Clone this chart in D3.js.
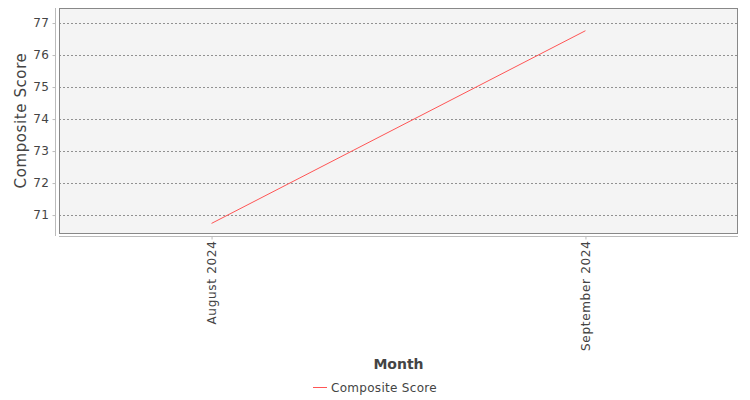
<!DOCTYPE html>
<html><head><meta charset="utf-8">
<script src="https://cdn.jsdelivr.net/npm/d3@7"></script>
<style>body{margin:0;background:#fff}svg{display:block}text{font-family:"DejaVu Sans",sans-serif}</style>
</head><body>
<svg id="c" width="750" height="400"></svg>
<script>
const categories = ["August 2024", "September 2024"];
const scores = [70.74, 76.76];
const yTicks = [71, 72, 73, 74, 75, 76, 77];
const seriesName = "Composite Score";

const svg = d3.select("#c");
const L = 59, R = 738, T = 8, B = 233;
const x = d3.scalePoint().domain(categories).range([L, R]).padding(0.408);
const y = d3.scaleLinear().domain([70.44, 77.47]).range([B, T]);

svg.append("rect").attr("x", L).attr("y", T).attr("width", R - L).attr("height", B - T)
  .attr("fill", "#f4f4f4");

// gridlines
svg.append("g").selectAll("line").data(yTicks).join("line")
  .attr("x1", L).attr("x2", R)
  .attr("y1", d => Math.round(y(d)) + 0.5).attr("y2", d => Math.round(y(d)) + 0.5)
  .attr("stroke", "#777").attr("stroke-width", 0.8).attr("stroke-dasharray", "2,2");

svg.append("rect").attr("x", L + 0.5).attr("y", T + 0.5).attr("width", R - L - 1).attr("height", B - T)
  .attr("fill", "none").attr("stroke", "#888").attr("stroke-width", 1);

// y axis
const ya = svg.append("g").attr("transform", `translate(55.5,0)`)
  .call(d3.axisLeft(y).tickValues(yTicks).tickSize(3).tickPadding(3).tickFormat(d3.format("d")));
ya.select(".domain").attr("stroke", "#bbb").attr("d", `M0,${T}V${B + 3}`);
ya.selectAll(".tick line").attr("stroke", "#bbb");
ya.selectAll(".tick text").attr("fill", "#444").style("font-size", "12px").style("letter-spacing", "0.5px");

// x axis
const xa = svg.append("g").attr("transform", `translate(0,236.5)`)
  .call(d3.axisBottom(x).tickSize(3).tickPadding(3));
xa.select(".domain").attr("stroke", "#bbb").attr("d", `M${L},0H${R}`);
xa.selectAll(".tick line").attr("stroke", "#bbb");
xa.selectAll(".tick text").attr("fill", "#444").style("font-size", "12px").style("letter-spacing", "0.7px")
  .attr("transform", "rotate(-90)").attr("text-anchor", "end")
  .attr("x", -4).attr("y", 0).attr("dy", "0.35em");

// line
const data = categories.map((c, i) => ({c, v: scores[i]}));
svg.append("path").datum(data)
  .attr("d", d3.line().x(d => x(d.c)).y(d => y(d.v)))
  .attr("fill", "none").attr("stroke", "#ff5555").attr("stroke-width", 1);

// axis titles
svg.append("text").attr("transform", `translate(26,${(T + B) / 2}) rotate(-90)`)
  .attr("text-anchor", "middle").attr("fill", "#444").style("font-size", "15px")
  .style("letter-spacing", "0.6px").text("Composite Score");
svg.append("text").attr("x", (L + R) / 2).attr("y", 369).attr("text-anchor", "middle")
  .attr("fill", "#444").style("font-size", "14px").style("font-weight", "bold").text("Month");

// legend
const lg = svg.append("g");
lg.append("line").attr("x1", 313).attr("x2", 327).attr("y1", 387.5).attr("y2", 387.5)
  .attr("stroke", "#ff5555").attr("stroke-width", 1);
lg.append("text").attr("x", 331).attr("y", 392).attr("fill", "#444").style("font-size", "12px")
  .style("letter-spacing", "0.3px").text(seriesName);
</script>
</body></html>
